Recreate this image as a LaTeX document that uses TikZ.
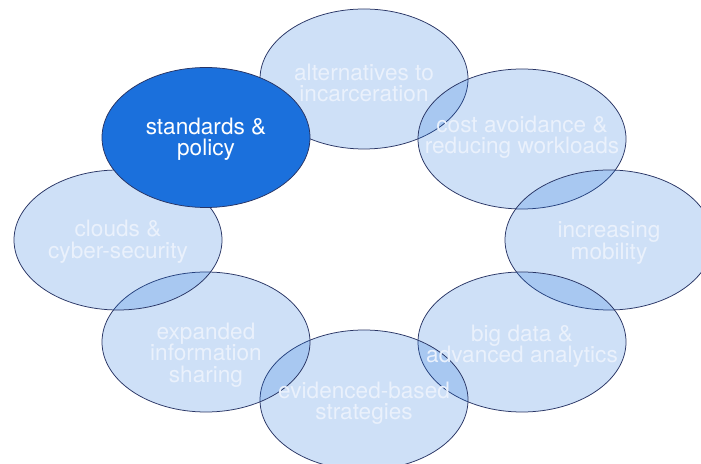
\documentclass[tikz,border=0pt]{standalone}
\usepackage{fontspec}
\setmainfont{TeX Gyre Heros}
\usetikzlibrary{shapes.geometric}
\definecolor{mainblue}{RGB}{27,112,220}
\definecolor{edgeblue}{RGB}{40,52,100}
\definecolor{lighttext}{RGB}{234,241,252}
\tikzset{
  bubble/.style={ellipse, minimum width=208pt, minimum height=140pt, inner sep=0pt,
    draw=edgeblue, line width=0.75pt, fill=mainblue, fill opacity=0.21, draw opacity=1},
  keybubble/.style={ellipse, minimum width=208pt, minimum height=140pt, inner sep=0pt,
    draw=edgeblue, line width=0.75pt, fill=mainblue},
  label/.style={align=center, inner sep=0pt, text=lighttext,
    font=\fontsize{22.6}{21.7}\selectfont,
    execute at begin node={\rule{0pt}{16pt}},
    execute at end node={\rule[-5pt]{0pt}{5pt}}},
  keylabel/.style={label, text=white}
}
\begin{document}
\begin{tikzpicture}[x=1pt,y=1pt]
\useasboundingbox (0,0) rectangle (701,463);
\clip (0,0) rectangle (701,463);
\fill[white] (0,0) rectangle (701,463);
% light bubbles (image y -> 463 - y)
\node[bubble] (alt)  at (364,384) {};
\node[bubble] (cost) at (522,324) {};
\node[bubble] (mob)  at (609,223) {};
\node[bubble] (big)  at (522,121) {};
\node[bubble] (evi)  at (364,63) {};
\node[bubble] (exp)  at (206,121) {};
\node[bubble] (cloud) at (118,223) {};
% highlighted bubble
\node[keybubble] (std) at (206,325.5) {};
% labels
\node[label] (talt) at (364,377.75) {alternatives to\\incarceration};
\node[keylabel] (tstd) at (206,323.75) {standards \&\\policy};
\node[label] (tcost) at (522,325.75) {cost avoidance \&\\reducing workloads};
\node[label] (tcloud) at (118,221.25) {clouds \&\\cyber-security};
\node[label] (tmob) at (609,220.25) {increasing\\mobility};
\node[label] (texp) at (206,108) {expanded\\information\\sharing};
\node[label] (tbig) at (522,116.75) {big data \&\\advanced analytics};
\node[label] (tevi) at (364,59.75) {evidenced-based\\strategies};
\end{tikzpicture}
\end{document}
